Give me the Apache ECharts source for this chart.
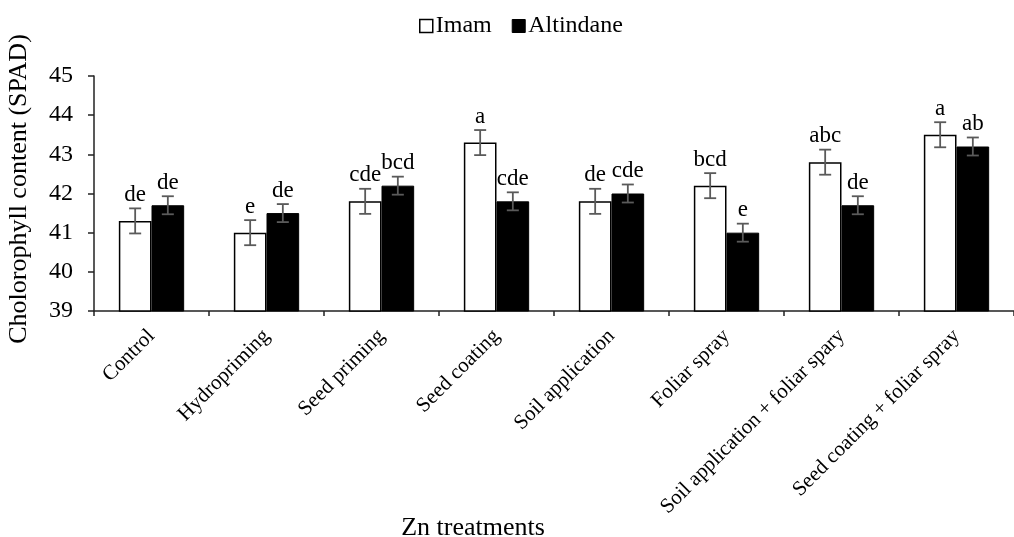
<!DOCTYPE html>
<html>
<head>
<meta charset="utf-8">
<title>Chlorophyll content under Zn treatments</title>
<script src="https://cdn.jsdelivr.net/npm/echarts@6/dist/echarts.min.js"></script>
<style>
  html, body { margin: 0; padding: 0; background: #fff; }
  #chart { width: 1014px; height: 537px; }
</style>
</head>
<body>
<div id="chart"></div>
<script>
// Zn treatment categories
const categories = [
  'Control', 'Hydropriming', 'Seed priming', 'Seed coating',
  'Soil application', 'Foliar spray', 'Soil application + foliar spary',
  'Seed coating + foliar spray'
];

// Mean chlorophyll content (SPAD) per cultivar
const imamValues      = [41.3, 41.0, 41.8, 43.3, 41.8, 42.2, 42.8, 43.5];
const altindaneValues = [41.7, 41.5, 42.2, 41.8, 42.0, 41.0, 41.7, 43.2];

// Standard errors
const imamErrors      = [0.32, 0.32, 0.32, 0.32, 0.32, 0.32, 0.32, 0.32];
const altindaneErrors = [0.23, 0.23, 0.23, 0.23, 0.23, 0.23, 0.23, 0.23];

// Mean separation letters
const imamLetters      = ['de', 'e', 'cde', 'a', 'de', 'bcd', 'abc', 'a'];
const altindaneLetters = ['de', 'de', 'bcd', 'cde', 'cde', 'e', 'de', 'ab'];

// Y axis range
const yMin = 39, yMax = 45, yStep = 1;

const FONT = '"Liberation Serif", "Times New Roman", serif';
const BAR_FRAC = 0.284;   // bar width as a share of a category band

function errorSeries(name, values, errors, letters, side) {
  return {
    name: name + ' error',
    type: 'custom',
    z: 5,
    silent: true,
    data: values.map((v, i) => [i, v, errors[i]]),
    renderItem: function (params, api) {
      const idx = api.value(0);
      const val = api.value(1);
      const se = api.value(2);
      const letter = letters[idx];
      const band = api.size([1, 0])[0];
      const cx = api.coord([idx, val])[0] + side * band * BAR_FRAC / 2;
      const yTop = api.coord([idx, val + se])[1];
      const yBot = api.coord([idx, val - se])[1];
      const cap = 6;
      const lineStyle = { stroke: '#5a5a5a', lineWidth: 1.8 };
      return {
        type: 'group',
        children: [
          { type: 'line', shape: { x1: cx, y1: yTop, x2: cx, y2: yBot }, style: lineStyle },
          { type: 'line', shape: { x1: cx - cap, y1: yTop, x2: cx + cap, y2: yTop }, style: lineStyle },
          { type: 'line', shape: { x1: cx - cap, y1: yBot, x2: cx + cap, y2: yBot }, style: lineStyle },
          {
            type: 'text',
            x: cx, y: yTop - 2,
            style: {
              text: letter,
              font: '23px ' + FONT,
              fill: '#000',
              align: 'center',
              verticalAlign: 'bottom'
            }
          }
        ]
      };
    }
  };
}

const chart = echarts.init(document.getElementById('chart'), null, { renderer: 'canvas' });

chart.setOption({
  backgroundColor: '#fff',
  animation: false,
  textStyle: { fontFamily: FONT, color: '#000' },
  legend: {
    left: 414,
    top: 9,
    itemWidth: 13,
    itemHeight: 13,
    itemGap: 20,
    icon: 'rect',
    textStyle: { fontFamily: FONT, fontSize: 24, color: '#000', padding: [0, 0, 0, -2] },
    data: [
      { name: 'Imam', itemStyle: { color: '#fff', borderColor: '#000', borderWidth: 1.5 } },
      { name: 'Altindane', itemStyle: { color: '#000', borderColor: '#000', borderWidth: 1 } }
    ]
  },
  grid: { left: 94, top: 76, width: 929, height: 235 },
  xAxis: {
    type: 'category',
    data: categories,
    axisLine: { lineStyle: { color: '#222', width: 1.5 } },
    axisTick: { show: true, length: 5, interval: 0, alignWithLabel: false, lineStyle: { color: '#222', width: 1.5 } },
    axisLabel: {
      interval: 0,
      rotate: 45,
      margin: 22,
      fontFamily: FONT,
      fontSize: 21,
      color: '#000'
    }
  },
  yAxis: {
    type: 'value',
    min: yMin,
    max: yMax,
    interval: yStep,
    splitLine: { show: false },
    axisLine: { show: true, lineStyle: { color: '#222', width: 1.5 } },
    axisTick: { show: true, length: 6, lineStyle: { color: '#222', width: 1.5 } },
    axisLabel: { margin: 21, fontFamily: FONT, fontSize: 24, color: '#000' }
  },
  graphic: [
    {
      type: 'text',
      x: 19, y: 189,
      rotation: Math.PI / 2,
      style: {
        text: 'Cholorophyll content (SPAD)',
        font: '26px ' + FONT,
        fill: '#000',
        align: 'center',
        verticalAlign: 'middle'
      }
    },
    {
      type: 'text',
      x: 473, y: 528,
      style: {
        text: 'Zn treatments',
        font: '26px ' + FONT,
        fill: '#000',
        align: 'center',
        verticalAlign: 'middle'
      }
    }
  ],
  series: [
    {
      name: 'Imam',
      type: 'bar',
      data: imamValues,
      barWidth: (BAR_FRAC * 100) + '%',
      barGap: '0%',
      itemStyle: { color: '#fff', borderColor: '#000', borderWidth: 1.5 }
    },
    {
      name: 'Altindane',
      type: 'bar',
      data: altindaneValues,
      barWidth: (BAR_FRAC * 100) + '%',
      barGap: '0%',
      itemStyle: { color: '#000', borderColor: '#000', borderWidth: 1 }
    },
    errorSeries('Imam', imamValues, imamErrors, imamLetters, -1),
    errorSeries('Altindane', altindaneValues, altindaneErrors, altindaneLetters, 1)
  ]
});
</script>
</body>
</html>
